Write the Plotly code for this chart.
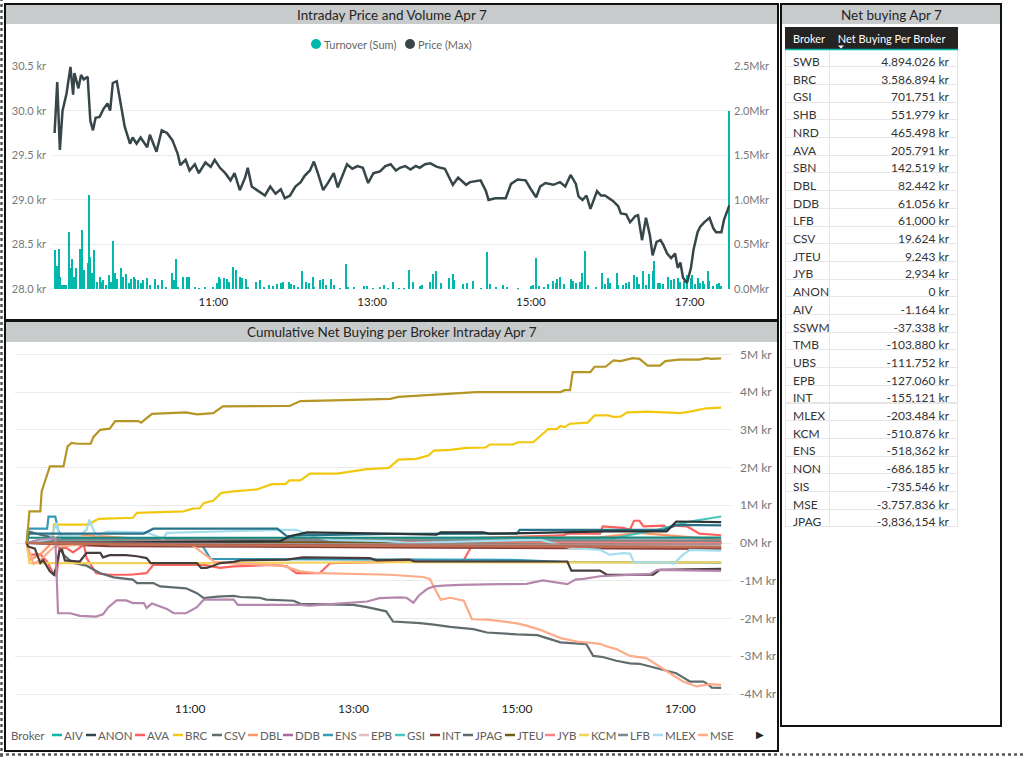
import plotly.graph_objects as go

W, H = 1023, 757
DAY = "2020-04-07 "
FONT = "Segoe UI, Lato, sans-serif"

# ---------------- Top chart data ----------------
price_time = [
    "09:00", "09:02", "09:04", "09:06", "09:09", "09:12", "09:14", "09:15", "09:18", "09:20",
    "09:22", "09:25", "09:27", "09:29", "09:31", "09:34", "09:37", "09:40", "09:42", "09:44",
    "09:47", "09:49", "09:53", "09:57", "09:59", "10:02", "10:05", "10:10", "10:12", "10:17",
    "10:21", "10:25", "10:29", "10:33", "10:35", "10:39", "10:42", "10:46", "10:49", "10:54",
    "10:58", "11:01", "11:05", "11:09", "11:13", "11:16", "11:20", "11:24", "11:26", "11:29",
    "11:34", "11:39", "11:43", "11:47", "11:51", "11:54", "11:58", "12:02", "12:06", "12:09",
    "12:13", "12:16", "12:19", "12:23", "12:27", "12:31", "12:34", "12:37", "12:41", "12:45",
    "12:49", "12:53", "12:57", "13:01", "13:06", "13:10", "13:14", "13:18", "13:21", "13:25",
    "13:29", "13:33", "13:36", "13:40", "13:44", "13:49", "13:55", "14:01", "14:05", "14:11",
    "14:14", "14:22", "14:26", "14:28", "14:33", "14:41", "14:45", "14:50", "14:56", "15:00",
    "15:04", "15:07", "15:11", "15:17", "15:22", "15:26", "15:30", "15:34", "15:36", "15:39",
    "15:42", "15:45", "15:50", "15:53", "15:56", "16:02", "16:06", "16:08", "16:12", "16:15",
    "16:19", "16:21", "16:24", "16:27", "16:30", "16:32", "16:35", "16:38", "16:40", "16:43",
    "16:46", "16:49", "16:51", "16:53", "16:55", "16:58", "17:01", "17:03", "17:06", "17:08",
    "17:11", "17:15", "17:18", "17:20", "17:24", "17:26", "17:30",
]
price_value = [
    29.75, 30.32, 29.56, 30.00, 30.19, 30.49, 30.18, 30.42, 30.25, 30.40,
    30.35, 30.38, 29.89, 29.78, 29.92, 29.93, 30.02, 30.08, 30.00, 30.31,
    30.33, 30.15, 29.82, 29.63, 29.70, 29.63, 29.70, 29.59, 29.73, 29.54,
    29.78, 29.75, 29.67, 29.52, 29.39, 29.45, 29.33, 29.40, 29.30, 29.42,
    29.37, 29.45, 29.36, 29.30, 29.22, 29.30, 29.11, 29.25, 29.36, 29.15,
    29.10, 29.05, 29.15, 29.07, 29.12, 29.02, 29.05, 29.15, 29.20, 29.27,
    29.33, 29.43, 29.30, 29.11, 29.20, 29.30, 29.14, 29.25, 29.40, 29.35,
    29.38, 29.36, 29.19, 29.30, 29.32, 29.38, 29.40, 29.33, 29.36, 29.38,
    29.34, 29.38, 29.36, 29.40, 29.41, 29.37, 29.35, 29.17, 29.25, 29.17,
    29.20, 29.22, 29.10, 29.00, 29.02, 29.02, 29.18, 29.23, 29.22, 29.12,
    29.03, 29.15, 29.19, 29.17, 29.20, 29.15, 29.28, 29.18, 29.04, 29.00,
    29.05, 28.90, 29.10, 29.05, 29.05, 28.99, 28.93, 28.85, 28.84, 28.75,
    28.82, 28.83, 28.55, 28.80, 28.60, 28.38, 28.53, 28.55, 28.50, 28.40,
    28.35, 28.40, 28.24, 28.30, 28.13, 28.07, 28.24, 28.45, 28.64, 28.70,
    28.75, 28.80, 28.68, 28.64, 28.64, 28.78, 28.94,
]

turnover_time = [
    "09:00", "09:02", "09:03", "09:04", "09:06", "09:07", "09:09", "09:11", "09:12", "09:13",
    "09:15", "09:16", "09:19", "09:20", "09:21", "09:22", "09:25", "09:26", "09:27", "09:28",
    "09:30", "09:32", "09:34", "09:36", "09:37", "09:39", "09:41", "09:43", "09:44", "09:46",
    "09:47", "09:50", "09:52", "09:54", "09:56", "09:58", "10:00", "10:01", "10:03", "10:05",
    "10:07", "10:10", "10:12", "10:16", "10:18", "10:21", "10:24", "10:29", "10:30", "10:32",
    "10:33", "10:37", "10:40", "10:42", "10:46", "10:49", "10:54", "11:00", "11:03", "11:04",
    "11:05", "11:08", "11:10", "11:12", "11:15", "11:17", "11:20", "11:22", "11:25", "11:26",
    "11:32", "11:35", "11:38", "11:42", "11:45", "11:48", "11:51", "11:53", "11:57", "11:59",
    "12:01", "12:04", "12:07", "12:10", "12:12", "12:15", "12:16", "12:21", "12:23", "12:25",
    "12:29", "12:31", "12:36", "12:40", "12:42", "12:46", "12:54", "12:56", "13:01", "13:06",
    "13:09", "13:12", "13:16", "13:20", "13:24", "13:28", "13:31", "13:36", "13:38", "13:44",
    "13:46", "13:48", "13:52", "13:58", "14:01", "14:02", "14:09", "14:12", "14:16", "14:22",
    "14:27", "14:29", "14:34", "14:39", "14:42", "14:50", "15:00", "15:02", "15:04", "15:06",
    "15:10", "15:13", "15:17", "15:19", "15:20", "15:22", "15:25", "15:30", "15:32", "15:34",
    "15:37", "15:39", "15:41", "15:43", "15:49", "15:54", "15:56", "15:58", "16:00", "16:05",
    "16:06", "16:10", "16:12", "16:14", "16:18", "16:20", "16:22", "16:25", "16:27", "16:29",
    "16:32", "16:33", "16:36", "16:38", "16:40", "16:44", "16:46", "16:48", "16:51", "16:53",
    "16:56", "16:58", "17:01", "17:02", "17:04", "17:06", "17:08", "17:10", "17:11", "17:14",
    "17:15", "17:18", "17:21", "17:22", "17:24", "17:30",
]
turnover_mkr = [
    0.44, 0.26, 0.45, 0.14, 0.05, 0.05, 0.05, 0.64, 0.24, 0.34,
    0.14, 0.24, 0.45, 0.24, 0.66, 0.22, 0.30, 1.06, 0.36, 0.18,
    0.44, 0.08, 0.14, 0.08, 0.10, 0.05, 0.16, 0.08, 0.54, 0.18,
    0.12, 0.24, 0.14, 0.17, 0.07, 0.11, 0.14, 0.11, 0.10, 0.07,
    0.10, 0.13, 0.05, 0.12, 0.05, 0.10, 0.03, 0.18, 0.10, 0.34,
    0.03, 0.14, 0.14, 0.14, 0.03, 0.02, 0.03, 0.03, 0.07, 0.14,
    0.11, 0.13, 0.12, 0.08, 0.25, 0.22, 0.14, 0.13, 0.11, 0.03,
    0.08, 0.10, 0.03, 0.05, 0.04, 0.06, 0.07, 0.08, 0.08, 0.06,
    0.05, 0.03, 0.20, 0.08, 0.07, 0.14, 0.03, 0.10, 0.12, 0.05,
    0.12, 0.05, 0.02, 0.28, 0.03, 0.03, 0.04, 0.04, 0.02, 0.03,
    0.05, 0.02, 0.08, 0.02, 0.02, 0.22, 0.08, 0.04, 0.05, 0.08,
    0.17, 0.21, 0.07, 0.13, 0.17, 0.10, 0.06, 0.07, 0.09, 0.02,
    0.42, 0.06, 0.03, 0.05, 0.03, 0.02, 0.04, 0.05, 0.35, 0.04,
    0.03, 0.06, 0.09, 0.07, 0.12, 0.14, 0.06, 0.12, 0.09, 0.07,
    0.08, 0.18, 0.43, 0.05, 0.03, 0.18, 0.06, 0.13, 0.07, 0.18,
    0.05, 0.05, 0.07, 0.08, 0.16, 0.14, 0.06, 0.21, 0.05, 0.17,
    0.20, 0.32, 0.07, 0.07, 0.06, 0.14, 0.10, 0.11, 0.13, 0.08,
    0.09, 0.16, 0.13, 0.16, 0.06, 0.13, 0.07, 0.09, 0.06, 0.20,
    0.09, 0.04, 0.06, 0.07, 0.04, 2.00,
]

price_ticks = [28.0, 28.5, 29.0, 29.5, 30.0, 30.5]
price_ticktext = ["28.0 kr", "28.5 kr", "29.0 kr", "29.5 kr", "30.0 kr", "30.5 kr"]
turnover_ticks = [0.0, 0.5, 1.0, 1.5, 2.0, 2.5]
turnover_ticktext = ["0.0Mkr", "0.5Mkr", "1.0Mkr", "1.5Mkr", "2.0Mkr", "2.5Mkr"]
time_ticks = ["11:00", "13:00", "15:00", "17:00"]

# ---------------- Table data ----------------
table_brokers = ["SWB", "BRC", "GSI", "SHB", "NRD", "AVA", "SBN", "DBL", "DDB", "LFB",
                 "CSV", "JTEU", "JYB", "ANON", "AIV", "SSWM", "TMB", "UBS", "EPB", "INT",
                 "MLEX", "KCM", "ENS", "NON", "SIS", "MSE", "JPAG"]
table_values = [4894026, 3586894, 701751, 551979, 465498, 205791, 142519, 82442, 61056, 61000,
                19624, 9243, 2934, 0, -1164, -37338, -103880, -111752, -127060, -155121,
                -203484, -510876, -518362, -686185, -735546, -3757836, -3836154]

# ---------------- Cumulative net buying (M kr) ----------------
AIV_t = ["09:00", "10:00", "14:00", "17:30"]
AIV_v = [0, -0.02, -0.01, -0.001]
ANON_t = ["09:00", "17:30"]
ANON_v = [0, 0]
AVA_t = ["09:00", "09:02", "09:10", "09:15", "09:20", "09:22", "09:24", "09:29", "09:34", "09:42",
         "09:44", "09:51", "10:01", "10:16", "10:28", "10:33", "11:10", "11:22", "11:32", "12:01",
         "12:11", "12:18", "12:35", "12:43", "13:27", "13:41", "14:21", "14:26", "14:28", "15:34",
         "15:37", "16:01", "16:03", "16:18", "16:23", "16:26", "16:30", "16:33", "16:48", "16:50",
         "16:57", "17:05", "17:07", "17:14", "17:30"]
AVA_v = [0, -0.31, -0.30, -0.49, -0.84, -0.86, -0.13, -0.13, -0.25, -0.04,
         -0.40, -0.80, -0.84, -0.84, -0.80, -0.58, -0.58, -0.66, -0.62, -0.58,
         -0.62, -0.80, -0.80, -0.53, -0.50, -0.45, -0.45, -0.13, 0.13, 0.20,
         0.25, 0.25, 0.44, 0.40, 0.35, 0.59, 0.59, 0.44, 0.46, 0.40,
         0.46, 0.44, 0.40, 0.25, 0.206]
BRC_t = ["09:00", "09:19", "09:20", "09:46", "09:49", "09:53", "10:18", "10:21", "10:55", "11:02",
         "11:07", "11:10", "11:17", "11:23", "11:32", "11:42", "11:49", "12:00", "12:10", "12:13",
         "12:21", "12:28", "12:48", "13:10", "13:26", "13:33", "13:46", "13:55", "13:59", "14:11",
         "14:23", "14:37", "14:40", "14:57", "15:01", "15:12", "15:23", "15:29", "15:32", "15:35",
         "15:39", "15:52", "15:57", "16:07", "16:11", "16:16", "16:21", "16:36", "16:45", "17:00",
         "17:07", "17:19", "17:30"]
BRC_v = [0, 0, 0.49, 0.49, 0.57, 0.64, 0.67, 0.80, 0.84, 0.91,
         0.92, 1.06, 1.12, 1.33, 1.37, 1.41, 1.42, 1.56, 1.56, 1.66,
         1.66, 1.84, 1.84, 1.96, 1.99, 2.21, 2.23, 2.32, 2.45, 2.47,
         2.52, 2.53, 2.61, 2.61, 2.67, 2.67, 3.02, 3.02, 3.10, 3.07,
         3.16, 3.19, 3.38, 3.38, 3.34, 3.35, 3.46, 3.48, 3.46, 3.44,
         3.48, 3.57, 3.587]
CSV_t = ["09:00", "09:20", "12:00", "17:30"]
CSV_v = [0, 0.05, 0.03, 0.020]
DBL_t = ["09:00", "09:02", "09:10", "09:24", "09:44", "10:31", "13:34", "16:01", "16:30", "17:14", "17:30"]
DBL_v = [0, -0.45, -0.30, 0.20, 0.20, 0.10, 0.12, 0.15, 0.27, 0.12, 0.082]
DDB_t = ["09:00", "09:30", "13:00", "17:30"]
DDB_v = [0, 0.03, 0.05, 0.061]
ENS_t = ["09:00", "09:01", "09:15", "09:16", "09:21", "09:23", "09:26", "10:16", "11:00", "11:07",
         "11:15", "15:02", "15:32", "17:30"]
ENS_v = [0, 0.38, 0.38, 0.70, 0.70, 0.35, 0.13, 0.13, 0.10, 0.05,
         -0.42, -0.45, -0.50, -0.518]
EPB_t = ["09:00", "11:00", "15:00", "17:30"]
EPB_v = [0, -0.05, -0.10, -0.127]
GSI_t = ["09:00", "09:21", "16:01", "16:08", "16:18", "16:43", "17:07", "17:30"]
GSI_v = [0, 0.08, 0.10, 0.09, 0.18, 0.35, 0.57, 0.702]
INT_t = ["09:00", "10:00", "14:00", "17:30"]
INT_v = [0, -0.08, -0.12, -0.155]
JPAG_t = ["09:00", "09:02", "09:10", "09:20", "09:27", "09:34", "09:44", "09:54", "10:04", "10:18",
          "10:21", "10:33", "10:38", "10:57", "11:05", "11:10", "11:20", "11:32", "11:37", "11:51",
          "11:56", "12:16", "12:21", "13:00", "13:10", "13:24", "13:29", "13:49", "13:59", "14:11",
          "14:28", "14:38", "15:00", "15:15", "15:22", "15:32", "15:51", "15:56", "16:03", "16:13",
          "16:23", "16:30", "16:40", "16:48", "16:57", "17:02", "17:07", "17:17", "17:21", "17:23",
          "17:30"]
JPAG_v = [0, 0.30, 0.22, 0.14, -0.31, -0.53, -0.60, -0.80, -0.91, -0.97,
          -1.06, -1.06, -1.15, -1.20, -1.33, -1.46, -1.42, -1.40, -1.43, -1.45,
          -1.50, -1.53, -1.61, -1.64, -1.70, -1.81, -2.08, -2.12, -2.16, -2.22,
          -2.28, -2.37, -2.42, -2.44, -2.52, -2.63, -2.68, -2.99, -3.02, -3.12,
          -3.19, -3.20, -3.29, -3.36, -3.45, -3.56, -3.67, -3.67, -3.76, -3.83,
          -3.836]
JTEU_t = ["09:00", "12:00", "17:30"]
JTEU_v = [0, 0.02, 0.009]
JYB_t = ["09:00", "12:30", "14:00", "17:30"]
JYB_v = [0, 0.10, 0.05, 0.003]
KCM_t = ["09:00", "09:02", "11:07", "13:34", "17:30"]
KCM_v = [0, -0.53, -0.53, -0.51, -0.511]
LFB_t = ["09:00", "09:30", "12:00", "17:30"]
LFB_v = [0, 0.10, 0.08, 0.061]
MLEX_t = ["09:00", "09:17", "09:20", "09:22", "09:24", "09:39", "09:44", "09:46", "09:49", "09:51",
          "09:59", "10:28", "10:40", "10:43", "12:08", "12:18", "12:30", "12:43", "13:24", "13:41",
          "15:17", "15:39", "16:01", "16:08", "16:18", "16:23", "16:26", "16:50", "16:55", "17:02",
          "17:07", "17:30"]
MLEX_v = [0, 0.10, 0.35, 0.53, 0.18, 0.20, 0.35, 0.62, 0.35, 0.20,
          0.30, 0.28, 0.12, 0.27, 0.35, 0.35, 0.18, 0.08, 0.05, 0.0,
          0.09, -0.13, -0.18, -0.31, -0.27, -0.28, -0.51, -0.51, -0.55, -0.31,
          -0.18, -0.203]
MSE_t = ["09:00", "09:05", "09:10", "09:20", "09:54", "11:00", "11:07", "11:18", "11:37", "12:08",
         "12:21", "12:35", "13:27", "13:51", "13:56", "14:04", "14:11", "14:21", "14:27", "14:38",
         "14:48", "15:00", "15:07", "15:17", "15:32", "15:44", "16:01", "16:06", "16:13", "16:23",
         "16:35", "16:45", "16:55", "17:02", "17:12", "17:22", "17:30"]
MSE_v = [0, -0.55, -0.45, -0.10, 0.0, -0.02, -0.20, -0.50, -0.55, -0.60,
         -0.75, -0.80, -0.84, -0.90, -0.95, -1.50, -1.45, -1.53, -2.02, -2.03,
         -2.07, -2.13, -2.19, -2.30, -2.52, -2.61, -2.67, -2.74, -2.81, -2.99,
         -3.05, -3.29, -3.51, -3.67, -3.80, -3.74, -3.758]
NON_t = ["09:00", "09:01", "09:06", "09:10", "09:12", "09:17", "09:20", "09:22", "09:24", "09:26",
         "09:28", "09:39", "09:42", "09:44", "09:54", "09:56", "10:01", "10:13", "10:21", "10:28",
         "10:31", "11:05", "11:08", "11:12", "11:17", "11:22", "11:32", "11:37", "12:11", "12:23",
         "13:12", "13:17", "13:41", "13:45", "15:37", "15:40", "16:01", "16:06", "16:40", "16:45",
         "17:07", "17:30"]
NON_v = [0, -0.09, -0.15, -0.53, -0.45, -0.75, -0.84, -0.60, -0.22, -0.18,
         -0.46, -0.49, -0.35, -0.26, -0.26, -0.38, -0.32, -0.32, -0.35, -0.40,
         -0.53, -0.53, -0.66, -0.66, -0.60, -0.53, -0.50, -0.46, -0.44, -0.38,
         -0.40, -0.46, -0.44, -0.49, -0.49, -0.73, -0.73, -0.84, -0.84, -0.71,
         -0.70, -0.686]
NRD_t = ["09:00", "09:01", "10:26", "10:33", "12:04", "12:11", "12:21", "13:27", "15:00", "15:02",
         "16:48", "16:57", "17:30"]
NRD_v = [0, 0.25, 0.25, 0.38, 0.38, 0.18, 0.20, 0.24, 0.25, 0.35,
         0.35, 0.48, 0.465]
SBN_t = ["09:00", "09:01", "13:00", "17:30"]
SBN_v = [0, 0.14, 0.14, 0.143]
SHB_t = ["09:00", "12:06", "12:13", "12:26", "13:24", "14:01", "14:04", "14:35", "14:40", "15:05",
         "16:06", "16:50", "16:57", "17:30"]
SHB_v = [0, 0.05, 0.18, 0.28, 0.25, 0.22, 0.28, 0.28, 0.25, 0.26,
         0.31, 0.31, 0.57, 0.552]
SIS_t = ["09:00", "09:10", "09:21", "09:23", "09:32", "09:39", "09:51", "09:56", "10:00", "10:06",
         "10:13", "10:18", "10:26", "10:28", "10:32", "10:43", "10:48", "10:57", "11:05", "11:10",
         "11:32", "11:35", "12:21", "12:28", "13:10", "13:19", "13:34", "13:39", "13:44", "13:48",
         "13:54", "13:59", "14:06", "14:18", "14:48", "15:07", "15:19", "15:32", "15:37", "15:43",
         "15:49", "16:01", "16:08", "16:18", "16:38", "16:43", "17:30"]
SIS_v = [0, 0.10, 0.13, -1.86, -1.86, -1.93, -1.95, -1.89, -1.70, -1.52,
         -1.52, -1.59, -1.59, -1.72, -1.60, -1.75, -1.86, -1.86, -1.70, -1.50,
         -1.50, -1.64, -1.64, -1.66, -1.55, -1.46, -1.44, -1.45, -1.58, -1.39,
         -1.22, -1.15, -1.13, -1.11, -1.09, -1.08, -0.99, -1.05, -1.09, -0.97,
         -0.95, -0.88, -0.87, -0.84, -0.82, -0.71, -0.736]
SSWM_t = ["09:00", "12:00", "17:30"]
SSWM_v = [0, -0.03, -0.037]
SWB_t = ["09:00", "09:02", "09:10", "09:11", "09:13", "09:17", "09:27", "09:30", "09:33", "09:37",
         "09:47", "09:49", "09:54", "10:01", "10:05", "10:22", "10:24", "10:28", "10:32", "10:57",
         "11:05", "11:17", "11:24", "12:13", "12:21", "12:45", "13:27", "13:33", "14:30", "15:32",
         "15:35", "15:39", "15:41", "15:54", "15:57", "16:05", "16:11", "16:16", "16:25", "16:30",
         "16:36", "16:45", "16:49", "16:59", "17:14", "17:19", "17:23", "17:30"]
SWB_v = [0, 0.84, 0.84, 1.37, 1.59, 2.03, 2.03, 2.56, 2.65, 2.63,
         2.63, 2.81, 3.00, 3.03, 3.23, 3.23, 3.19, 3.30, 3.42, 3.46,
         3.41, 3.44, 3.62, 3.63, 3.76, 3.78, 3.82, 3.87, 4.00, 4.00,
         4.05, 4.05, 4.53, 4.53, 4.67, 4.67, 4.84, 4.82, 4.90, 4.88,
         4.70, 4.70, 4.82, 4.86, 4.86, 4.90, 4.88, 4.894]
TMB_t = ["09:00", "11:00", "15:00", "17:30"]
TMB_v = [0, -0.05, -0.08, -0.104]
UBS_t = ["09:00", "11:00", "15:00", "17:30"]
UBS_v = [0, -0.06, -0.09, -0.112]

cum_ticks = [-4, -3, -2, -1, 0, 1, 2, 3, 4, 5]
cum_ticktext = ["-4M kr", "-3M kr", "-2M kr", "-1M kr", "0M kr", "1M kr", "2M kr", "3M kr", "4M kr", "5M kr"]

series = {
    "AIV": (AIV_t, AIV_v), "ANON": (ANON_t, ANON_v), "AVA": (AVA_t, AVA_v), "BRC": (BRC_t, BRC_v),
    "CSV": (CSV_t, CSV_v), "DBL": (DBL_t, DBL_v), "DDB": (DDB_t, DDB_v), "ENS": (ENS_t, ENS_v),
    "EPB": (EPB_t, EPB_v), "GSI": (GSI_t, GSI_v), "INT": (INT_t, INT_v), "JPAG": (JPAG_t, JPAG_v),
    "JTEU": (JTEU_t, JTEU_v), "JYB": (JYB_t, JYB_v), "KCM": (KCM_t, KCM_v), "LFB": (LFB_t, LFB_v),
    "MLEX": (MLEX_t, MLEX_v), "MSE": (MSE_t, MSE_v), "NON": (NON_t, NON_v), "NRD": (NRD_t, NRD_v),
    "SBN": (SBN_t, SBN_v), "SHB": (SHB_t, SHB_v), "SIS": (SIS_t, SIS_v), "SSWM": (SSWM_t, SSWM_v),
    "SWB": (SWB_t, SWB_v), "TMB": (TMB_t, TMB_v), "UBS": (UBS_t, UBS_v),
}

# ---------------- Styles ----------------
COLORS = {
    "AIV": "#01B8AA", "ANON": "#374649", "AVA": "#FD625E", "BRC": "#F2C80F", "CSV": "#5F6B6D",
    "DBL": "#FE9666", "DDB": "#A66999", "ENS": "#3599B8", "EPB": "#DFBFBF", "GSI": "#4AC5BB",
    "INT": "#8C3B3B", "JPAG": "#5F6B6D", "JTEU": "#6E5E1E", "JYB": "#FB8281", "KCM": "#F4D25A",
    "LFB": "#7F898A", "MLEX": "#A4DDEE", "MSE": "#FDAB89", "NON": "#473D3D", "NRD": "#28738A",
    "SBN": "#168980", "SHB": "#293537", "SIS": "#B687AC", "SSWM": "#A78F8F", "SWB": "#B59525",
    "TMB": "#BB4A4A", "UBS": "#BD7150",
}
LEGEND_ITEMS = ["AIV", "ANON", "AVA", "BRC", "CSV", "DBL", "DDB", "ENS", "EPB", "GSI",
                "INT", "JPAG", "JTEU", "JYB", "KCM", "LFB", "MLEX", "MSE"]
LEGEND_X = [52, 86, 135, 173, 212, 248, 283, 323, 359, 395, 430, 463, 505, 545, 579, 618, 653, 698]

TEAL = "#01B8AA"
DARK = "#374649"
TITLE_BG = "#C8CBCB"
GRID = "#EAEAEA"


def X(p):
    return p / W


def Y(p):
    return 1 - p / H


def ts(lst):
    return [DAY + t for t in lst]


assert len(price_time) == len(price_value)
assert len(turnover_time) == len(turnover_mkr)
for k, (t, v) in series.items():
    assert len(t) == len(v), k

fig = go.Figure()

# Top chart
fig.add_trace(go.Bar(x=ts(turnover_time), y=turnover_mkr, marker=dict(color=TEAL, line=dict(width=0)),
                     width=50000, xaxis="x", yaxis="y", hoverinfo="skip", showlegend=False))
fig.add_trace(go.Scatter(x=ts(price_time), y=price_value, mode="lines", line=dict(color=DARK, width=2.5),
                         xaxis="x", yaxis="y2", hoverinfo="skip", showlegend=False))

# Bottom chart
for b in series:
    t, v = series[b]
    fig.add_trace(go.Scatter(x=ts(t), y=v, mode="lines", name=b,
                             line=dict(color=COLORS[b], width=2.2),
                             xaxis="x2", yaxis="y3", hoverinfo="skip", showlegend=False))

# Table
fig.add_trace(go.Table(
    domain=dict(x=[X(785), X(958)], y=[Y(533), Y(27)]),
    columnwidth=[45, 128],
    header=dict(values=["Broker", "Net Buying Per Broker"], fill_color="#252423",
                font=dict(color="white", size=11, family=FONT), align="left", height=22,
                line=dict(color="#252423", width=1)),
    cells=dict(values=[table_brokers, [f"{v:,} kr" for v in table_values]], fill_color="white",
               font=dict(color="#333333", size=12, family=FONT), align=["left", "right"], height=17.7,
               line=dict(color="#E6E6E6", width=1)),
))

shapes = []
annotations = []

# Title bars
for x0, y0, x1, y1 in [(6, 5, 777, 24), (6, 322, 777, 342), (782, 5, 1000, 24)]:
    shapes.append(dict(type="rect", xref="paper", yref="paper", x0=X(x0), x1=X(x1), y0=Y(y1), y1=Y(y0),
                       fillcolor=TITLE_BG, line=dict(width=0), layer="below"))
# Panel frames
for x0, y0, x1, y1 in [(5, 4, 778, 320), (5, 321, 778, 751), (781, 4, 1001, 726)]:
    shapes.append(dict(type="rect", xref="paper", yref="paper", x0=X(x0), x1=X(x1), y0=Y(y1), y1=Y(y0),
                       line=dict(color="#111111", width=2), fillcolor="rgba(0,0,0,0)"))
# Dotted page edges
shapes.append(dict(type="line", xref="paper", yref="paper", x0=X(1.5), x1=X(1.5), y0=0, y1=1,
                   line=dict(color="#555555", width=2.5, dash="dot")))
shapes.append(dict(type="line", xref="paper", yref="paper", x0=0, x1=1, y0=Y(754.5), y1=Y(754.5),
                   line=dict(color="#555555", width=2.5, dash="dot")))
# Teal underline of table header
shapes.append(dict(type="line", xref="paper", yref="paper", x0=X(785), x1=X(958), y0=Y(49.5), y1=Y(49.5),
                   line=dict(color=TEAL, width=1.5)))
# Sort indicator (small downward triangle below the header text)
shapes.append(dict(type="path", xref="paper", yref="paper",
                   path=f"M {X(838)} {Y(45.5)} L {X(844)} {Y(45.5)} L {X(841)} {Y(48.5)} Z",
                   fillcolor="white", line=dict(width=0)))

# Titles
for txt, cx, cy in [("Intraday Price and Volume Apr 7", 392, 15),
                    ("Cumulative Net Buying per Broker Intraday Apr 7", 392, 332),
                    ("Net buying Apr 7", 891, 15)]:
    annotations.append(dict(text=txt, x=X(cx), y=Y(cy), xref="paper", yref="paper", showarrow=False,
                            xanchor="center", yanchor="middle",
                            font=dict(size=13.5, color="#252423", family=FONT)))

# Top legend
for name, col, cx in [("Turnover (Sum)", TEAL, 316), ("Price (Max)", DARK, 410)]:
    shapes.append(dict(type="circle", xref="paper", yref="paper", x0=X(cx - 5), x1=X(cx + 5),
                       y0=Y(49), y1=Y(39), fillcolor=col, line=dict(width=0)))
    annotations.append(dict(text=name, x=X(cx + 6), y=Y(44), xref="paper", yref="paper", showarrow=False,
                            xanchor="left", yanchor="middle", font=dict(size=11, color="#666666")))

# Bottom legend
annotations.append(dict(text="Broker", x=X(9), y=Y(735), xref="paper", yref="paper", showarrow=False,
                        xanchor="left", yanchor="middle", font=dict(size=11.5, color="#605E5C")))
for b, lx in zip(LEGEND_ITEMS, LEGEND_X):
    shapes.append(dict(type="line", xref="paper", yref="paper", x0=X(lx), x1=X(lx + 10),
                       y0=Y(735), y1=Y(735), line=dict(color=COLORS[b], width=2.5)))
    annotations.append(dict(text=b, x=X(lx + 10), y=Y(735), xref="paper", yref="paper", showarrow=False,
                            xanchor="left", yanchor="middle", font=dict(size=11.5, color="#605E5C")))
annotations.append(dict(text="▶", x=X(760), y=Y(734), xref="paper", yref="paper", showarrow=False,
                        xanchor="center", yanchor="middle", font=dict(size=10, color="#252423")))

fig.update_layout(
    width=W, height=H, margin=dict(l=0, r=0, t=0, b=0, pad=0, autoexpand=False),
    paper_bgcolor="white", plot_bgcolor="white",
    font=dict(family=FONT, color="#666666"),
    showlegend=False, bargap=0,
    shapes=shapes, annotations=annotations,
    xaxis=dict(domain=[X(53), X(730)], anchor="y", type="date",
               range=[DAY + "08:58:48", DAY + "17:30:30"],
               tickvals=ts(time_ticks), ticktext=time_ticks,
               showgrid=False, zeroline=False, showline=False, ticks="",
               tickfont=dict(size=11.5, color="#252423"), ticklabelstandoff=4),
    yaxis=dict(domain=[Y(289.3), Y(66)], anchor="x", side="right", range=[0, 2.5],
               tickvals=turnover_ticks, ticktext=turnover_ticktext,
               showgrid=True, gridcolor=GRID, gridwidth=1, zeroline=False, showline=False, ticks="",
               tickfont=dict(size=11, color="#777777"), ticklabelstandoff=3),
    yaxis2=dict(overlaying="y", anchor="x", side="left", range=[28.0, 30.5],
                tickvals=price_ticks, ticktext=price_ticktext,
                showgrid=False, zeroline=False, showline=False, ticks="",
                tickfont=dict(size=11, color="#777777"), ticklabelstandoff=6),
    xaxis2=dict(domain=[X(15), X(731)], anchor="y3", type="date",
                range=[DAY + "08:51:24", DAY + "17:37:13"],
                tickvals=ts(time_ticks), ticktext=time_ticks,
                showgrid=False, zeroline=False, showline=False, ticks="",
                tickfont=dict(size=12, color="#252423"), ticklabelstandoff=2),
    yaxis3=dict(domain=[Y(698), Y(350)], anchor="x2", side="right", range=[-4.106, 5.114],
                tickvals=cum_ticks, ticktext=cum_ticktext,
                showgrid=True, gridcolor=GRID, gridwidth=1, zeroline=False, showline=False, ticks="",
                tickfont=dict(size=12, color="#777777"), ticklabelstandoff=8),
)

fig.write_html(
    "out.html",
    config={"displayModeBar": False},
    post_script=(
        "var gd=document.getElementById('{plot_id}');"
        "gd.style.position='fixed';gd.style.top='0px';gd.style.left='0px';"
        "document.body.style.margin='0';document.body.style.overflow='hidden';"
        "document.documentElement.style.overflow='hidden';"
    ),
)
